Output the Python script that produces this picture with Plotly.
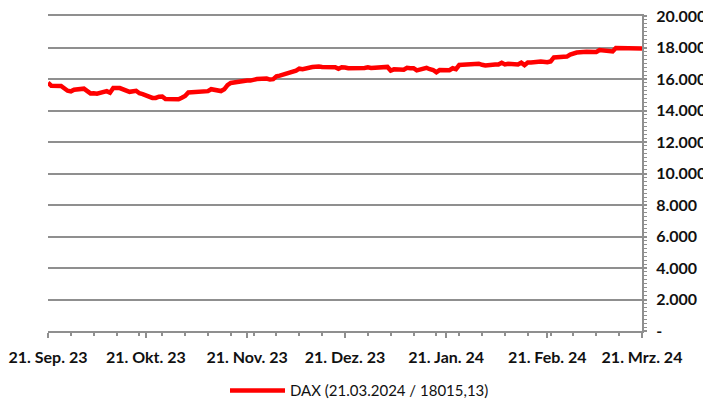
import plotly.graph_objects as go

dates = [
    "2023-09-21", "2023-09-22", "2023-09-25", "2023-09-26", "2023-09-27", "2023-09-28", "2023-09-29",
    "2023-10-02", "2023-10-03", "2023-10-04", "2023-10-05", "2023-10-06",
    "2023-10-09", "2023-10-10", "2023-10-11", "2023-10-12", "2023-10-13",
    "2023-10-16", "2023-10-17", "2023-10-18", "2023-10-19", "2023-10-20",
    "2023-10-23", "2023-10-24", "2023-10-25", "2023-10-26", "2023-10-27",
    "2023-10-30", "2023-10-31", "2023-11-01", "2023-11-02", "2023-11-03",
    "2023-11-06", "2023-11-07", "2023-11-08", "2023-11-09", "2023-11-10",
    "2023-11-13", "2023-11-14", "2023-11-15", "2023-11-16", "2023-11-17",
    "2023-11-20", "2023-11-21", "2023-11-22", "2023-11-23", "2023-11-24",
    "2023-11-27", "2023-11-28", "2023-11-29", "2023-11-30", "2023-12-01",
    "2023-12-04", "2023-12-05", "2023-12-06", "2023-12-07", "2023-12-08",
    "2023-12-11", "2023-12-12", "2023-12-13", "2023-12-14", "2023-12-15",
    "2023-12-18", "2023-12-19", "2023-12-20", "2023-12-21", "2023-12-22",
    "2023-12-27", "2023-12-28", "2023-12-29",
    "2024-01-02", "2024-01-03", "2024-01-04", "2024-01-05",
    "2024-01-08", "2024-01-09", "2024-01-10", "2024-01-11", "2024-01-12",
    "2024-01-15", "2024-01-16", "2024-01-17", "2024-01-18", "2024-01-19",
    "2024-01-22", "2024-01-23", "2024-01-24", "2024-01-25", "2024-01-26",
    "2024-01-29", "2024-01-30", "2024-01-31", "2024-02-01", "2024-02-02",
    "2024-02-05", "2024-02-06", "2024-02-07", "2024-02-08", "2024-02-09",
    "2024-02-12", "2024-02-13", "2024-02-14", "2024-02-15", "2024-02-16",
    "2024-02-19", "2024-02-20", "2024-02-21", "2024-02-22", "2024-02-23",
    "2024-02-26", "2024-02-27", "2024-02-28", "2024-02-29", "2024-03-01",
    "2024-03-04", "2024-03-05", "2024-03-06", "2024-03-07", "2024-03-08",
    "2024-03-11", "2024-03-12", "2024-03-13", "2024-03-14", "2024-03-15",
    "2024-03-18", "2024-03-19", "2024-03-20", "2024-03-21",
]

dax = [
    15760, 15572, 15557, 15405, 15255, 15217, 15323,
    15387, 15247, 15085, 15099, 15070,
    15229, 15128, 15424, 15460, 15425,
    15187, 15238, 15252, 15094, 15045,
    14798, 14800, 14880, 14892, 14731,
    14687, 14716, 14810, 14923, 15144,
    15189, 15136, 15152, 15229, 15353,
    15234, 15345, 15615, 15748, 15786,
    15919, 15901, 15900, 15958, 15994,
    16029, 15966, 15992, 16166, 16215,
    16398, 16405, 16533, 16656, 16629,
    16759, 16794, 16791, 16766, 16752,
    16751, 16650, 16744, 16733, 16687,
    16706, 16742, 16701,
    16752, 16769, 16538, 16617,
    16594, 16716, 16688, 16689, 16547,
    16704, 16622, 16572, 16432, 16567,
    16555, 16683, 16627, 16890, 16907,
    16961, 16942, 16972, 16904, 16859,
    16918, 16926, 17033, 16922, 16963,
    16926, 17037, 16880, 17047, 17046,
    17117, 17092, 17068, 17118, 17370,
    17419, 17423, 17556, 17601, 17678,
    17735, 17716, 17698, 17716, 17842,
    17815, 17746, 17965, 17961, 17942,
    17937, 17933, 17987, 17932, 18015,
]

x_tick_vals = ["2023-09-21", "2023-10-21", "2023-11-21", "2023-12-21",
               "2024-01-21", "2024-02-21", "2024-03-21"]
x_tick_text = ["21. Sep. 23", "21. Okt. 23", "21. Nov. 23", "21. Dez. 23",
               "21. Jan. 24", "21. Feb. 24", "21. Mrz. 24"]

y_tick_vals = [0, 2000, 4000, 6000, 8000, 10000, 12000, 14000, 16000, 18000, 20000]
y_tick_text = ["-", "2.000", "4.000", "6.000", "8.000", "10.000", "12.000",
               "14.000", "16.000", "18.000", "20.000"]

series_name = "DAX (21.03.2024 / 18015,13)"

GRID = "#8f8f8f"
FONT = "Lato"

fig = go.Figure()
fig.add_trace(go.Scatter(
    x=dates, y=dax, mode="lines", name=series_name,
    line=dict(color="#ff0000", width=4.5),
))

fig.update_layout(
    width=703, height=392,
    margin=dict(l=40, r=69, t=8, b=69, autoexpand=False),
    paper_bgcolor="white", plot_bgcolor="white",
    showlegend=True,
    legend=dict(
        orientation="h", xref="container", yref="paper",
        x=0.5, xanchor="center", y=-0.19, yanchor="middle",
        font=dict(family=FONT, size=15, color="#111111"),
        itemwidth=55,
    ),
    xaxis=dict(
        type="date", automargin=False,
        range=["2023-09-21", "2024-03-21"],
        tickvals=x_tick_vals, ticktext=x_tick_text,
        tickfont=dict(family=FONT, size=16, color="#111111", weight="bold"),
        showgrid=False, zeroline=False,
        showline=True, mirror=True, linecolor=GRID, linewidth=2,
        ticks="outside", ticklen=5, tickwidth=1.5, tickcolor=GRID,
        minor=dict(ticks="outside", ticklen=3, tickwidth=1.5, tickcolor=GRID,
                   dtick=7 * 86400000, tick0="2023-09-21", showgrid=False),
        ticklabelstandoff=6,
        ticklabeloverflow="allow",
    ),
    yaxis=dict(
        side="right", automargin=False,
        range=[0, 20001],
        tickvals=y_tick_vals, ticktext=y_tick_text,
        tickfont=dict(family=FONT, size=16, color="#111111", weight="bold"),
        showgrid=True, gridcolor=GRID, gridwidth=2,
        zeroline=False,
        showline=True, linecolor=GRID, linewidth=2,
        ticks="outside", ticklen=3, tickwidth=1.5, tickcolor=GRID,
        minor=dict(ticks="outside", ticklen=3, tickwidth=1, tickcolor=GRID,
                   dtick=250, showgrid=False),
        ticklabelstandoff=6,
        ticklabeloverflow="allow",
    ),
)

fig.write_html("out.html")
